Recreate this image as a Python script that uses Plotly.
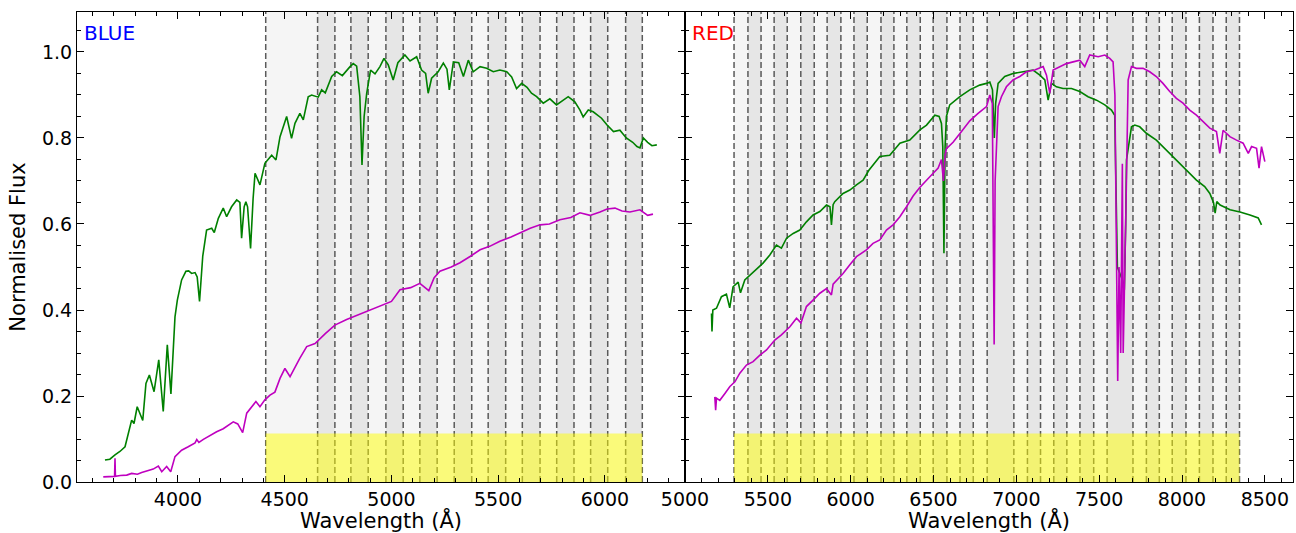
import plotly.graph_objects as go

# ---------------- data ----------------
blue_green_wave = [3658, 3681, 3705, 3728, 3752, 3767, 3783, 3794, 3809, 3835, 3850, 3866, 3888, 3910, 3931, 3950,
                   3967, 3986, 3997, 4017, 4037, 4050, 4064, 4080, 4090, 4101, 4116, 4134, 4158, 4170, 4189, 4212,
                   4228, 4251, 4275, 4290, 4298, 4310, 4318, 4326, 4340, 4352, 4361, 4384, 4407, 4439, 4459, 4478,
                   4509, 4532, 4548, 4571, 4587, 4610, 4626, 4657, 4673, 4690, 4720, 4743, 4770, 4806, 4821, 4837,
                   4852, 4862, 4872, 4884, 4902, 4923, 4946, 4965, 4985, 5008, 5030, 5063, 5087, 5118, 5141, 5160,
                   5172, 5188, 5219, 5243, 5260, 5271, 5290, 5315, 5337, 5360, 5383, 5415, 5446, 5477, 5508, 5540,
                   5563, 5586, 5610, 5635, 5656, 5680, 5711, 5742, 5773, 5805, 5828, 5859, 5883, 5898, 5922, 5945,
                   5969, 5984, 6010, 6040, 6070, 6100, 6130, 6150, 6164, 6180, 6200, 6220, 6243]
blue_green_flux = [0.051, 0.053, 0.063, 0.071, 0.082, 0.109, 0.144, 0.136, 0.175, 0.143, 0.229, 0.249, 0.210, 0.284, 0.164, 0.319,
                   0.205, 0.384, 0.423, 0.470, 0.490, 0.491, 0.485, 0.487, 0.477, 0.420, 0.525, 0.586, 0.590, 0.580, 0.613, 0.637,
                   0.617, 0.640, 0.656, 0.650, 0.567, 0.640, 0.652, 0.640, 0.543, 0.660, 0.718, 0.691, 0.741, 0.760, 0.749, 0.803,
                   0.850, 0.799, 0.834, 0.857, 0.842, 0.896, 0.900, 0.895, 0.912, 0.905, 0.943, 0.954, 0.945, 0.966, 0.973, 0.967,
                   0.896, 0.737, 0.850, 0.904, 0.958, 0.949, 0.966, 0.985, 0.970, 0.935, 0.975, 0.993, 0.979, 0.989, 0.958, 0.950,
                   0.904, 0.939, 0.954, 0.974, 0.960, 0.912, 0.977, 0.975, 0.943, 0.981, 0.954, 0.966, 0.962, 0.954, 0.958, 0.954,
                   0.942, 0.915, 0.927, 0.918, 0.904, 0.896, 0.881, 0.891, 0.877, 0.888, 0.896, 0.884, 0.865, 0.849, 0.865, 0.861,
                   0.853, 0.846, 0.830, 0.815, 0.818, 0.800, 0.790, 0.780, 0.777, 0.800, 0.790, 0.782, 0.784]

blue_mag_wave = [3650, 3680, 3697, 3703, 3705, 3707, 3730, 3760, 3783, 3810, 3830, 3853, 3884, 3908, 3924, 3947,
                 3966, 3986, 4017, 4048, 4080, 4088, 4098, 4119, 4150, 4181, 4212, 4228, 4259, 4280, 4303, 4322,
                 4345, 4365, 4384, 4407, 4431, 4454, 4478, 4501, 4525, 4548, 4571, 4603, 4642, 4690, 4735, 4790,
                 4852, 4900, 4946, 5000, 5040, 5090, 5133, 5175, 5200, 5227, 5280, 5321, 5370, 5415, 5460, 5508,
                 5560, 5602, 5650, 5696, 5740, 5789, 5840, 5883, 5930, 5977, 6010, 6047, 6080, 6117, 6164, 6200, 6225]
blue_mag_flux = [0.012, 0.012, 0.013, 0.013, 0.055, 0.013, 0.015, 0.016, 0.020, 0.018, 0.022, 0.026, 0.030, 0.037, 0.024, 0.036,
                 0.024, 0.059, 0.074, 0.082, 0.091, 0.099, 0.092, 0.099, 0.109, 0.117, 0.124, 0.130, 0.140, 0.135, 0.115, 0.160,
                 0.175, 0.187, 0.175, 0.191, 0.202, 0.209, 0.241, 0.264, 0.245, 0.268, 0.288, 0.315, 0.322, 0.345, 0.365, 0.378,
                 0.390, 0.400, 0.410, 0.420, 0.447, 0.452, 0.462, 0.445, 0.475, 0.490, 0.500, 0.510, 0.525, 0.540, 0.548, 0.560,
                 0.570, 0.580, 0.590, 0.598, 0.600, 0.610, 0.615, 0.626, 0.620, 0.628, 0.635, 0.637, 0.630, 0.628, 0.633, 0.620, 0.623]

red_green_wave = [5160, 5163, 5168, 5190, 5220, 5250, 5270, 5290, 5321, 5335, 5361, 5391, 5432, 5471, 5512, 5552,
                  5582, 5613, 5653, 5693, 5733, 5773, 5814, 5854, 5875, 5884, 5894, 5904, 5954, 5995, 6035, 6075,
                  6110, 6140, 6176, 6236, 6297, 6357, 6418, 6458, 6508, 6534, 6548, 6556, 6563, 6570, 6578, 6598,
                  6659, 6719, 6779, 6820, 6840, 6856, 6867, 6875, 6890, 6930, 6980, 7041, 7101, 7142, 7172, 7192,
                  7212, 7242, 7282, 7333, 7383, 7433, 7484, 7534, 7574, 7594, 7600, 7610, 7640, 7652, 7660, 7665,
                  7695, 7715, 7745, 7785, 7845, 7906, 7966, 8027, 8087, 8137, 8168, 8190, 8200, 8210, 8230, 8290,
                  8350, 8410, 8460, 8480]
red_green_flux = [0.392, 0.350, 0.400, 0.404, 0.431, 0.437, 0.405, 0.454, 0.465, 0.440, 0.470, 0.481, 0.497, 0.509, 0.528, 0.551,
                  0.544, 0.567, 0.578, 0.586, 0.605, 0.621, 0.629, 0.644, 0.640, 0.598, 0.645, 0.652, 0.671, 0.679, 0.691, 0.702,
                  0.725, 0.740, 0.757, 0.760, 0.788, 0.795, 0.819, 0.830, 0.853, 0.850, 0.834, 0.780, 0.532, 0.780, 0.850, 0.877,
                  0.896, 0.912, 0.923, 0.927, 0.930, 0.912, 0.800, 0.880, 0.927, 0.943, 0.950, 0.954, 0.958, 0.946, 0.935, 0.888,
                  0.927, 0.919, 0.915, 0.915, 0.908, 0.896, 0.888, 0.877, 0.865, 0.853, 0.700, 0.500, 0.470, 0.447, 0.600, 0.749,
                  0.826, 0.830, 0.826, 0.811, 0.795, 0.772, 0.749, 0.726, 0.702, 0.687, 0.671, 0.650, 0.625, 0.652, 0.644, 0.633,
                  0.628, 0.621, 0.614, 0.598]

red_mag_wave = [5180, 5185, 5190, 5210, 5241, 5271, 5301, 5331, 5371, 5411, 5452, 5492, 5542, 5582, 5633, 5673,
                5700, 5733, 5773, 5814, 5854, 5884, 5894, 5954, 5995, 6035, 6095, 6135, 6176, 6216, 6256, 6297,
                6337, 6377, 6417, 6458, 6488, 6528, 6548, 6560, 6570, 6578, 6618, 6669, 6719, 6769, 6820, 6840,
                6855, 6866, 6872, 6890, 6910, 6940, 6980, 7021, 7061, 7111, 7142, 7162, 7182, 7202, 7222, 7262,
                7302, 7343, 7383, 7413, 7443, 7494, 7534, 7564, 7584, 7595, 7605, 7612, 7620, 7630, 7640, 7645,
                7660, 7675, 7695, 7725, 7765, 7805, 7845, 7885, 7926, 7966, 8006, 8047, 8087, 8127, 8168, 8208,
                8228, 8248, 8289, 8329, 8369, 8400, 8420, 8450, 8465, 8480, 8500]
red_mag_flux = [0.198, 0.167, 0.195, 0.190, 0.206, 0.222, 0.233, 0.253, 0.272, 0.280, 0.295, 0.307, 0.330, 0.342, 0.361, 0.381,
                0.370, 0.408, 0.423, 0.439, 0.450, 0.435, 0.460, 0.485, 0.505, 0.524, 0.540, 0.555, 0.563, 0.586, 0.598, 0.617,
                0.640, 0.665, 0.685, 0.703, 0.714, 0.730, 0.750, 0.700, 0.760, 0.775, 0.790, 0.815, 0.840, 0.857, 0.873, 0.900,
                0.880, 0.320, 0.700, 0.873, 0.896, 0.919, 0.935, 0.943, 0.954, 0.958, 0.962, 0.966, 0.946, 0.904, 0.958, 0.966,
                0.973, 0.977, 0.981, 0.966, 0.993, 0.989, 0.993, 0.985, 0.977, 0.900, 0.500, 0.235, 0.500, 0.300, 0.740, 0.300,
                0.600, 0.935, 0.966, 0.962, 0.962, 0.954, 0.943, 0.927, 0.908, 0.892, 0.881, 0.865, 0.853, 0.838, 0.823, 0.815,
                0.764, 0.818, 0.803, 0.795, 0.788, 0.764, 0.780, 0.776, 0.730, 0.780, 0.745]

# band edges (Angstrom)
blue_edges = [4411, 4654, 4735, 4810, 4891, 4974, 5055, 5133, 5214, 5294, 5376, 5453, 5535, 5613, 5696, 5774,
              5855, 5933, 6013, 6097, 6175]
red_edges = [5296, 5380, 5459, 5538, 5617, 5699, 5780, 5858, 5941, 6020, 6100, 6183, 6261, 6339, 6420, 6498,
             6581, 6660, 6740, 6824, 6985, 7067, 7146, 7226, 7305, 7384, 7467, 7548, 7704, 7785, 7863, 7941,
             8024, 8105, 8187, 8267, 8347]
yellow_top = 0.113

blue_xrange = [3527, 6375]
red_xrange = [5000, 8670]
y_range = [0, 1.093]

GREEN = "#008000"
MAGENTA = "#bf00bf"
LIGHT = "#f5f5f5"
DARK = "#e6e6e6"
FONT = "DejaVu Sans"
TICK_SIZE = 19
TITLE_SIZE = 21

fig = go.Figure()
fig.add_trace(go.Scatter(x=blue_green_wave, y=blue_green_flux, mode="lines",
                         line=dict(color=GREEN, width=1.6), xaxis="x", yaxis="y", showlegend=False))
fig.add_trace(go.Scatter(x=blue_mag_wave, y=blue_mag_flux, mode="lines",
                         line=dict(color=MAGENTA, width=1.6), xaxis="x", yaxis="y", showlegend=False))
fig.add_trace(go.Scatter(x=red_green_wave, y=red_green_flux, mode="lines",
                         line=dict(color=GREEN, width=1.6), xaxis="x2", yaxis="y2", showlegend=False))
fig.add_trace(go.Scatter(x=red_mag_wave, y=red_mag_flux, mode="lines",
                         line=dict(color=MAGENTA, width=1.6), xaxis="x2", yaxis="y2", showlegend=False))

shapes = []
for edges, xr, yr in [(blue_edges, "x", "y"), (red_edges, "x2", "y2")]:
    for i in range(len(edges) - 1):
        shapes.append(dict(type="rect", xref=xr, yref=yr + " domain", x0=edges[i], x1=edges[i + 1],
                           y0=0, y1=1, fillcolor=LIGHT if i % 2 == 0 else DARK, line=dict(width=0),
                           layer="below"))
    shapes.append(dict(type="rect", xref=xr, yref=yr, x0=edges[0], x1=edges[-1], y0=0, y1=yellow_top,
                       fillcolor="rgba(255,255,0,0.5)", line=dict(width=0), layer="below"))
    for e in edges:
        shapes.append(dict(type="line", xref=xr, yref=yr + " domain", x0=e, x1=e, y0=0, y1=1,
                           line=dict(color="#5a5a5a", width=1.5, dash="6px,3px"), layer="below"))

axis_common = dict(showline=True, linecolor="#000000", linewidth=1, mirror="allticks",
                   ticks="inside", ticklen=7, tickwidth=1, tickcolor="#000000",
                   showgrid=False, zeroline=False,
                   tickfont=dict(family=FONT, size=TICK_SIZE, color="#000000"))

fig.update_layout(
    width=1296, height=533,
    margin=dict(l=77, r=3, t=12, b=51),
    plot_bgcolor="white", paper_bgcolor="white",
    shapes=shapes,
    xaxis=dict(domain=[0, 0.5], range=blue_xrange, dtick=500, tick0=0,
               minor=dict(dtick=100, ticks="inside", ticklen=4, tickcolor="#000000"),
               anchor="y", **axis_common),
    xaxis2=dict(domain=[0.5, 1], range=red_xrange, dtick=500, tick0=0,
                minor=dict(dtick=100, ticks="inside", ticklen=4, tickcolor="#000000"),
                anchor="y2", **axis_common),
    yaxis=dict(range=y_range, dtick=0.2, tick0=0, tickformat=".1f", anchor="x",
               minor=dict(dtick=0.05, ticks="inside", ticklen=4, tickcolor="#000000"),
               title=dict(text="Normalised Flux", font=dict(family=FONT, size=TITLE_SIZE, color="#000000"), standoff=10),
               **axis_common),
    yaxis2=dict(range=y_range, dtick=0.2, tick0=0, anchor="x2", matches="y", showticklabels=False,
                minor=dict(dtick=0.05, ticks="inside", ticklen=4, tickcolor="#000000"),
                **axis_common),
    annotations=[
        dict(text="BLUE", xref="x domain", yref="y domain", x=0.008, y=0.955, xanchor="left", yanchor="middle",
             showarrow=False, font=dict(family=FONT, size=20, color="#0000ff")),
        dict(text="RED", xref="x2 domain", yref="y2 domain", x=0.008, y=0.955, xanchor="left", yanchor="middle",
             showarrow=False, font=dict(family=FONT, size=20, color="#ff0000")),
        dict(text="Wavelength (Å)", xref="x domain", yref="paper", x=0.5, y=0, xanchor="center", yanchor="top",
             yshift=-23, showarrow=False, font=dict(family=FONT, size=TITLE_SIZE, color="#000000")),
        dict(text="Wavelength (Å)", xref="x2 domain", yref="paper", x=0.5, y=0, xanchor="center", yanchor="top",
             yshift=-23, showarrow=False, font=dict(family=FONT, size=TITLE_SIZE, color="#000000")),
    ],
)

fig.write_html("out.html")
